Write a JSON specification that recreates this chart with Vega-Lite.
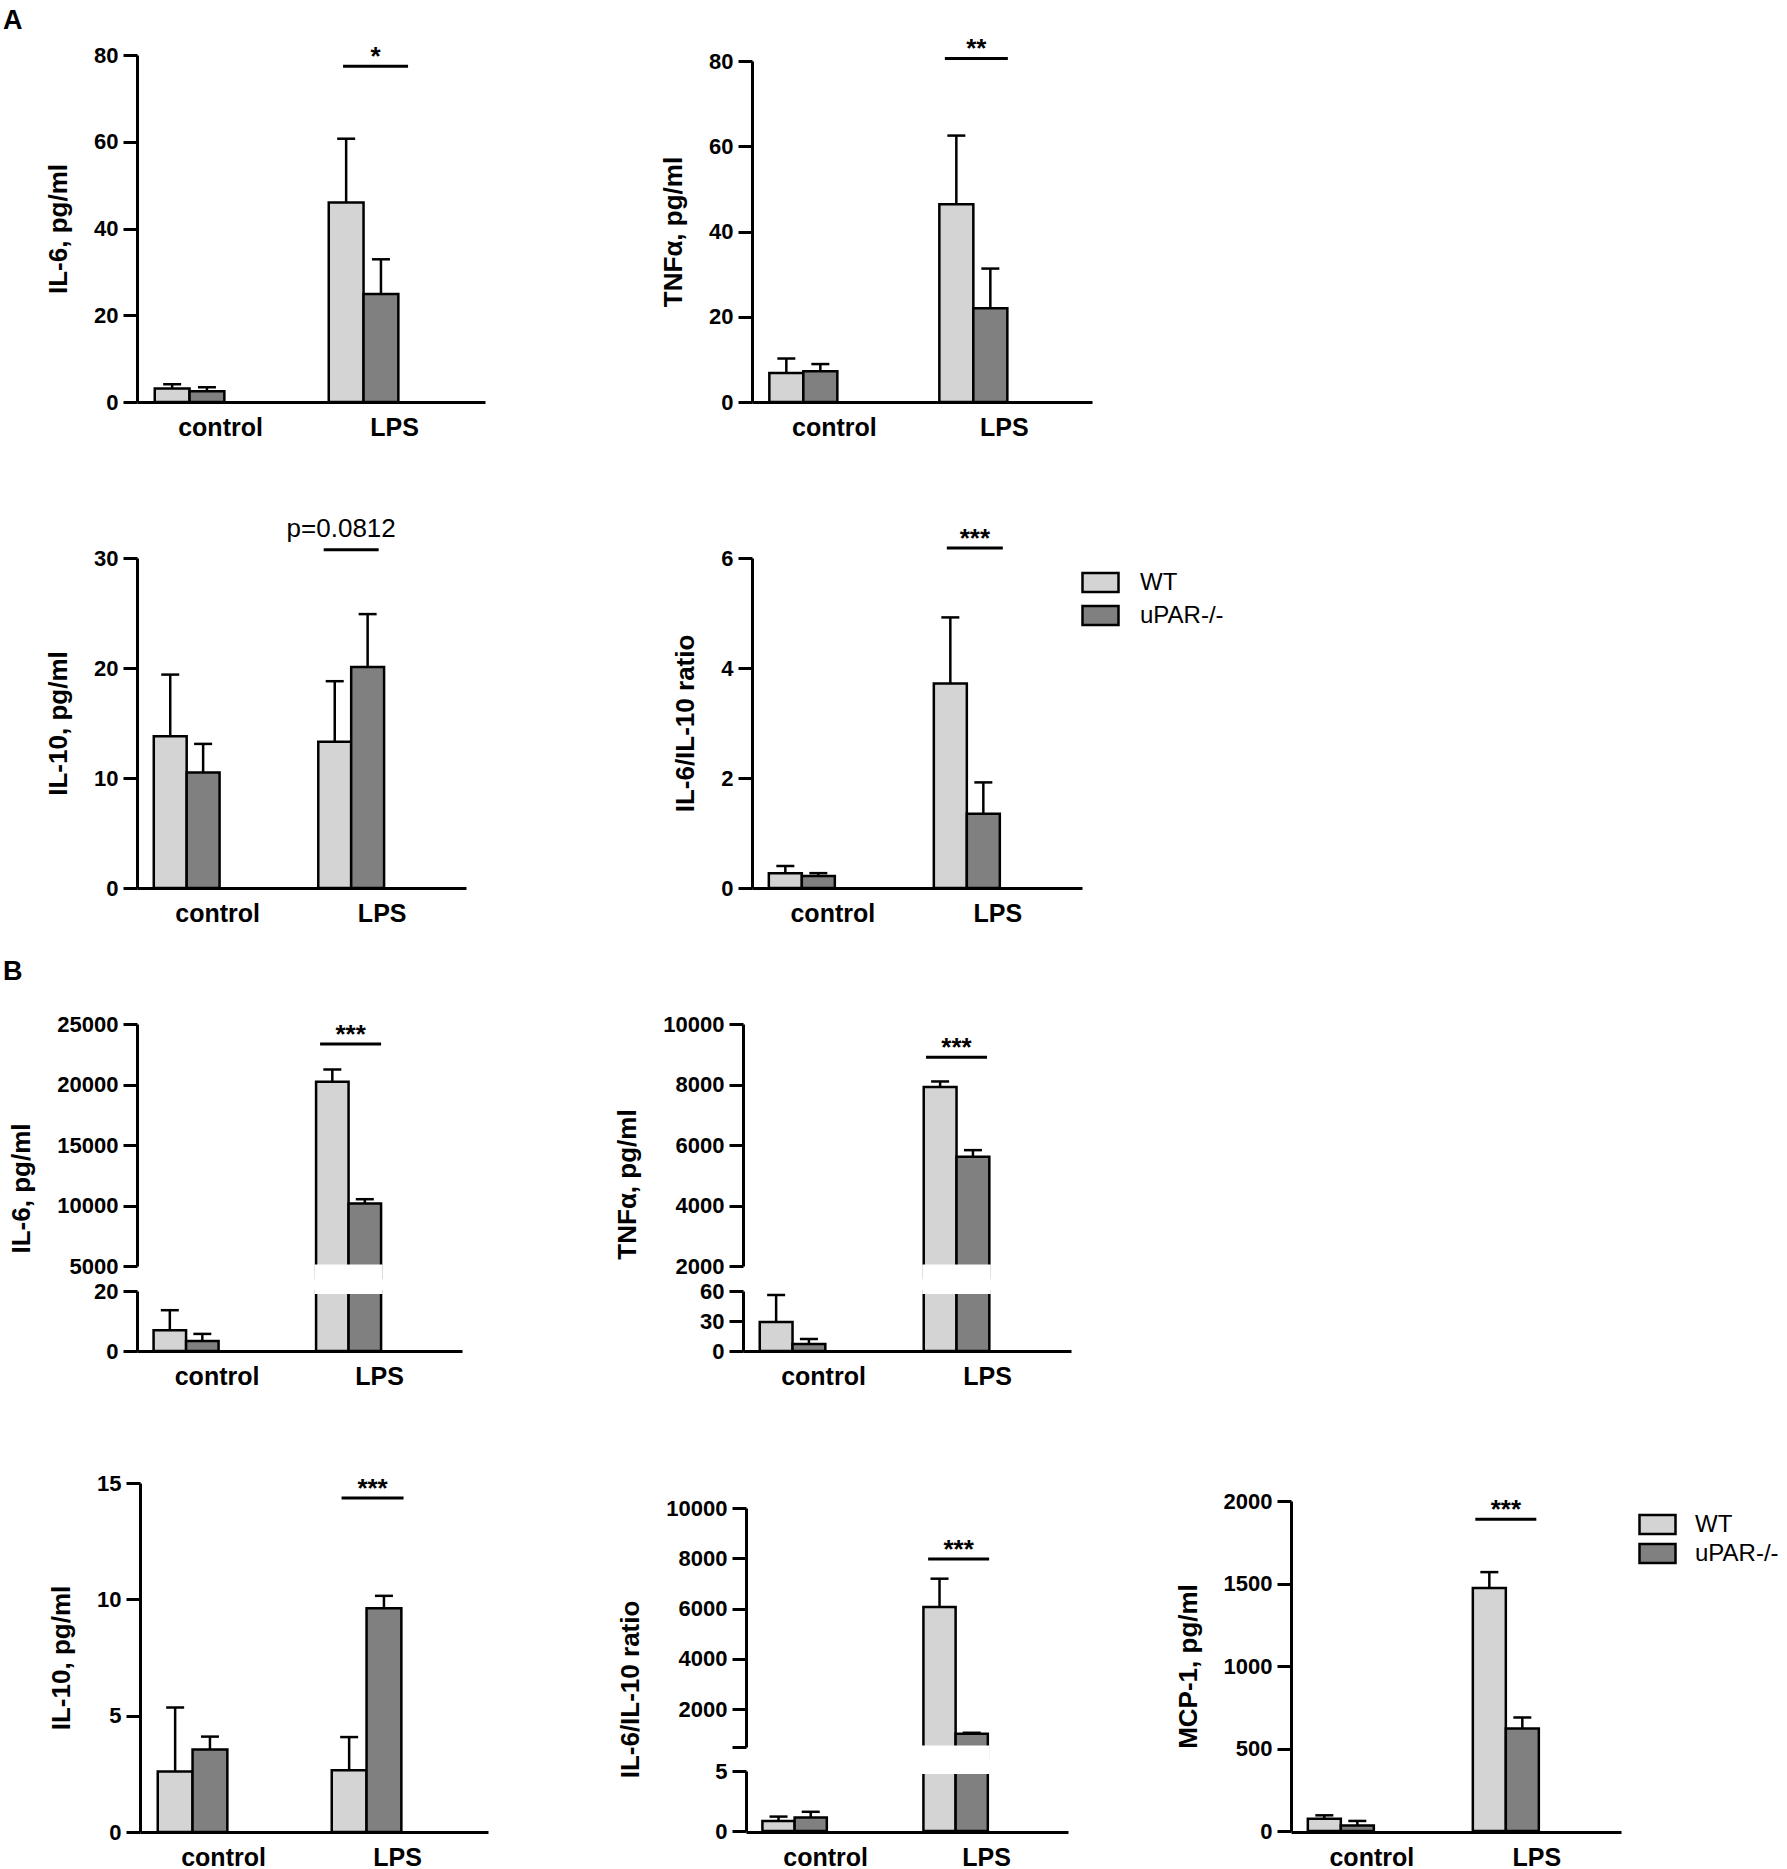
{
  "$schema": "https://vega.github.io/schema/vega-lite/v6.json",
  "background": "white",
  "padding": {"left": 3, "top": 7, "right": 0, "bottom": 0},
  "config": {
    "font": "Liberation Sans",
    "view": {"stroke": null},
    "axis": {
      "domainColor": "black", "domainWidth": 3, "tickColor": "black", "tickWidth": 3, "tickSize": 14,
      "labelColor": "black", "labelFontWeight": "bold", "labelFontSize": 22, "labelPadding": 5,
      "titleColor": "black", "titleFontWeight": "bold", "titleFontSize": 26, "titlePadding": 22,
      "grid": false, "labelFlush": false, "labelOverlap": false
    },
    "axisX": {"ticks": false, "labelFontSize": 25, "labelPadding": 13, "labelAngle": 0, "labelOffset": 31},
    "axisY": {"format": "d"},
    "legend": {
      "symbolType": "M-1.5,-0.8H1.5V0.8H-1.5Z", "symbolSize": 576,
      "symbolStrokeColor": "black", "symbolStrokeWidth": 2.5,
      "labelFontSize": 24, "labelColor": "black", "labelOffset": 26
    },
    "title": {"color": "black", "fontWeight": "bold", "fontSize": 27, "anchor": "start", "frame": "group"}
  },
  "datasets": {
    "bars": [
      {"chart": "A_IL6", "cond": "control", "geno": "WT", "mean": 3.1, "upper": 4.1},
      {"chart": "A_IL6", "cond": "control", "geno": "uPAR-/-", "mean": 2.5, "upper": 3.4},
      {"chart": "A_IL6", "cond": "LPS", "geno": "WT", "mean": 46, "upper": 60.7},
      {"chart": "A_IL6", "cond": "LPS", "geno": "uPAR-/-", "mean": 24.9, "upper": 32.9},
      {"chart": "A_TNF", "cond": "control", "geno": "WT", "mean": 6.8, "upper": 10.2},
      {"chart": "A_TNF", "cond": "control", "geno": "uPAR-/-", "mean": 7.2, "upper": 8.9},
      {"chart": "A_TNF", "cond": "LPS", "geno": "WT", "mean": 46.4, "upper": 62.5},
      {"chart": "A_TNF", "cond": "LPS", "geno": "uPAR-/-", "mean": 22, "upper": 31.3},
      {"chart": "A_IL10", "cond": "control", "geno": "WT", "mean": 13.8, "upper": 19.4},
      {"chart": "A_IL10", "cond": "control", "geno": "uPAR-/-", "mean": 10.5, "upper": 13.1},
      {"chart": "A_IL10", "cond": "LPS", "geno": "WT", "mean": 13.3, "upper": 18.8},
      {"chart": "A_IL10", "cond": "LPS", "geno": "uPAR-/-", "mean": 20.1, "upper": 24.9},
      {"chart": "A_RATIO", "cond": "control", "geno": "WT", "mean": 0.27, "upper": 0.4},
      {"chart": "A_RATIO", "cond": "control", "geno": "uPAR-/-", "mean": 0.22, "upper": 0.27},
      {"chart": "A_RATIO", "cond": "LPS", "geno": "WT", "mean": 3.72, "upper": 4.92},
      {"chart": "A_RATIO", "cond": "LPS", "geno": "uPAR-/-", "mean": 1.35, "upper": 1.92},
      {"chart": "B_IL6", "cond": "control", "geno": "WT", "mean": 6.9, "upper": 13.6},
      {"chart": "B_IL6", "cond": "control", "geno": "uPAR-/-", "mean": 3.3, "upper": 5.7},
      {"chart": "B_IL6", "cond": "LPS", "geno": "WT", "mean": 20220, "upper": 21240},
      {"chart": "B_IL6", "cond": "LPS", "geno": "uPAR-/-", "mean": 10160, "upper": 10520},
      {"chart": "B_TNF", "cond": "control", "geno": "WT", "mean": 29, "upper": 56},
      {"chart": "B_TNF", "cond": "control", "geno": "uPAR-/-", "mean": 7, "upper": 12},
      {"chart": "B_TNF", "cond": "LPS", "geno": "WT", "mean": 7920, "upper": 8100},
      {"chart": "B_TNF", "cond": "LPS", "geno": "uPAR-/-", "mean": 5610, "upper": 5830},
      {"chart": "B_IL10", "cond": "control", "geno": "WT", "mean": 2.6, "upper": 5.35},
      {"chart": "B_IL10", "cond": "control", "geno": "uPAR-/-", "mean": 3.55, "upper": 4.1},
      {"chart": "B_IL10", "cond": "LPS", "geno": "WT", "mean": 2.65, "upper": 4.08},
      {"chart": "B_IL10", "cond": "LPS", "geno": "uPAR-/-", "mean": 9.62, "upper": 10.15},
      {"chart": "B_RATIO", "cond": "control", "geno": "WT", "mean": 0.84, "upper": 1.2},
      {"chart": "B_RATIO", "cond": "control", "geno": "uPAR-/-", "mean": 1.12, "upper": 1.6},
      {"chart": "B_RATIO", "cond": "LPS", "geno": "WT", "mean": 6060, "upper": 7190},
      {"chart": "B_RATIO", "cond": "LPS", "geno": "uPAR-/-", "mean": 1030, "upper": 1065},
      {"chart": "B_MCP1", "cond": "control", "geno": "WT", "mean": 75, "upper": 95},
      {"chart": "B_MCP1", "cond": "control", "geno": "uPAR-/-", "mean": 34, "upper": 61},
      {"chart": "B_MCP1", "cond": "LPS", "geno": "WT", "mean": 1472, "upper": 1569},
      {"chart": "B_MCP1", "cond": "LPS", "geno": "uPAR-/-", "mean": 621, "upper": 688}
    ],
    "sig": [
      {"chart": "A_IL6", "cond": "LPS", "level": 77.4, "label": "*"},
      {"chart": "A_TNF", "cond": "LPS", "level": 80.6, "label": "**"},
      {"chart": "A_IL10", "cond": "LPS", "level": 30.76, "label": "p=0.0812"},
      {"chart": "A_RATIO", "cond": "LPS", "level": 6.18, "label": "***"},
      {"chart": "B_IL6", "cond": "LPS", "level": 23350, "label": "***"},
      {"chart": "B_TNF", "cond": "LPS", "level": 8900, "label": "***"},
      {"chart": "B_IL10", "cond": "LPS", "level": 14.36, "label": "***"},
      {"chart": "B_RATIO", "cond": "LPS", "level": 7970, "label": "***"},
      {"chart": "B_MCP1", "cond": "LPS", "level": 1890, "label": "***"}
    ]
  },
  "columns": 3,
  "bounds": "flush",
  "spacing": {"row": 132, "column": 199},
  "resolve": {"scale": {"x": "independent", "y": "independent", "xOffset": "independent", "fill": "independent"}, "legend": {"fill": "independent"}},
  "concat": [
    {
      "width": 407, "height": 347,
      "title": {"text": "A", "dx": -134, "offset": 9},
      "layer": [
        {
          "data": {"name": "bars"},
          "transform": [{"filter": "datum.chart == 'A_IL6'"}],
          "encoding": {
            "x": {"field": "cond", "type": "nominal", "title": null, "scale": {"domain": ["control", "LPS"], "range": [0, 348], "paddingInner": 0.6, "paddingOuter": 0.3, "align": 0.17}},
            "xOffset": {"field": "geno", "type": "nominal", "scale": {"domain": ["WT", "uPAR-/-"], "paddingInner": 0, "paddingOuter": 0}}
          },
          "layer": [
            {"mark": {"type": "bar", "stroke": "black", "strokeWidth": 2.5, "clip": true},
             "encoding": {
               "y": {"field": "mean", "type": "quantitative", "title": "IL-6, pg/ml", "scale": {"domain": [0, 80], "range": [347, 0], "nice": false, "zero": false}, "axis": {"values": [0, 20, 40, 60, 80]}},
               "y2": {"datum": 0},
               "fill": {"field": "geno", "type": "nominal", "scale": {"domain": ["WT", "uPAR-/-"], "range": ["#d4d4d4", "#808080"]}, "legend": null}
             }},
            {"mark": {"type": "rule", "color": "black", "strokeWidth": 2.5, "clip": true},
             "encoding": {"y": {"field": "mean", "type": "quantitative", "title": "IL-6, pg/ml"}, "y2": {"field": "upper"}}},
            {"mark": {"type": "tick", "color": "black", "thickness": 2.5, "size": 18, "opacity": 1, "clip": true},
             "encoding": {"y": {"field": "upper", "type": "quantitative", "title": "IL-6, pg/ml"}}}
          ]
        },
        {
          "data": {"name": "sig"},
          "transform": [{"filter": "datum.chart == 'A_IL6'"}],
          "encoding": {"x": {"field": "cond", "type": "nominal", "title": null}, "y": {"field": "level", "type": "quantitative", "title": "IL-6, pg/ml"}},
          "layer": [
            {"mark": {"type": "tick", "color": "black", "thickness": 3, "size": 65, "opacity": 1, "xOffset": 12}},
            {"mark": {"type": "text", "fontSize": 26, "fontWeight": "bold", "baseline": "alphabetic", "dy": -1, "xOffset": 12, "color": "black"}, "encoding": {"text": {"field": "label"}}}
          ]
        }
      ]
    },
    {
      "width": 349, "height": 347,
      "layer": [
        {
          "data": {"name": "bars"},
          "transform": [{"filter": "datum.chart == 'A_TNF'"}],
          "encoding": {
            "x": {"field": "cond", "type": "nominal", "title": null, "scale": {"domain": ["control", "LPS"], "range": [9, 349], "paddingInner": 0.6, "paddingOuter": 0.3, "align": 0.17}},
            "xOffset": {"field": "geno", "type": "nominal", "scale": {"domain": ["WT", "uPAR-/-"], "paddingInner": 0, "paddingOuter": 0}}
          },
          "layer": [
            {"mark": {"type": "bar", "stroke": "black", "strokeWidth": 2.5, "clip": true},
             "encoding": {
               "y": {"field": "mean", "type": "quantitative", "title": "TNFα, pg/ml", "scale": {"domain": [0, 80], "range": [347, 6], "nice": false, "zero": false}, "axis": {"values": [0, 20, 40, 60, 80], "offset": -9}},
               "y2": {"datum": 0},
               "fill": {"field": "geno", "type": "nominal", "scale": {"domain": ["WT", "uPAR-/-"], "range": ["#d4d4d4", "#808080"]}, "legend": null}
             }},
            {"mark": {"type": "rule", "color": "black", "strokeWidth": 2.5, "clip": true},
             "encoding": {"y": {"field": "mean", "type": "quantitative", "title": "TNFα, pg/ml"}, "y2": {"field": "upper"}}},
            {"mark": {"type": "tick", "color": "black", "thickness": 2.5, "size": 18, "opacity": 1, "clip": true},
             "encoding": {"y": {"field": "upper", "type": "quantitative", "title": "TNFα, pg/ml"}}}
          ]
        },
        {
          "data": {"name": "sig"},
          "transform": [{"filter": "datum.chart == 'A_TNF'"}],
          "encoding": {"x": {"field": "cond", "type": "nominal", "title": null}, "y": {"field": "level", "type": "quantitative", "title": "TNFα, pg/ml"}},
          "layer": [
            {"mark": {"type": "tick", "color": "black", "thickness": 3, "size": 63, "opacity": 1, "xOffset": 3}},
            {"mark": {"type": "text", "fontSize": 26, "fontWeight": "bold", "baseline": "alphabetic", "dy": -1, "xOffset": 3, "color": "black"}, "encoding": {"text": {"field": "label"}}}
          ]
        }
      ]
    },
    {"width": 1, "height": 1, "data": {"values": []}, "mark": "rect", "encoding": {}},
    {
      "width": 407, "height": 354,
      "layer": [
        {
          "data": {"name": "bars"},
          "transform": [{"filter": "datum.chart == 'A_IL10'"}],
          "encoding": {
            "x": {"field": "cond", "type": "nominal", "title": null, "scale": {"domain": ["control", "LPS"], "range": [0, 329], "paddingInner": 0.6, "paddingOuter": 0.3, "align": 0.17}},
            "xOffset": {"field": "geno", "type": "nominal", "scale": {"domain": ["WT", "uPAR-/-"], "paddingInner": 0, "paddingOuter": 0}}
          },
          "layer": [
            {"mark": {"type": "bar", "stroke": "black", "strokeWidth": 2.5, "clip": true},
             "encoding": {
               "y": {"field": "mean", "type": "quantitative", "title": "IL-10, pg/ml", "scale": {"domain": [0, 30], "range": [354, 24], "nice": false, "zero": false}, "axis": {"values": [0, 10, 20, 30]}},
               "y2": {"datum": 0},
               "fill": {"field": "geno", "type": "nominal", "scale": {"domain": ["WT", "uPAR-/-"], "range": ["#d4d4d4", "#808080"]}, "legend": null}
             }},
            {"mark": {"type": "rule", "color": "black", "strokeWidth": 2.5, "clip": true},
             "encoding": {"y": {"field": "mean", "type": "quantitative", "title": "IL-10, pg/ml"}, "y2": {"field": "upper"}}},
            {"mark": {"type": "tick", "color": "black", "thickness": 2.5, "size": 18, "opacity": 1, "clip": true},
             "encoding": {"y": {"field": "upper", "type": "quantitative", "title": "IL-10, pg/ml"}}}
          ]
        },
        {
          "data": {"name": "sig"},
          "transform": [{"filter": "datum.chart == 'A_IL10'"}],
          "encoding": {"x": {"field": "cond", "type": "nominal", "title": null}, "y": {"field": "level", "type": "quantitative", "title": "IL-10, pg/ml"}},
          "layer": [
            {"mark": {"type": "tick", "color": "black", "thickness": 3, "size": 55, "opacity": 1}},
            {"mark": {"type": "text", "fontSize": 26, "fontWeight": "normal", "baseline": "alphabetic", "dy": -13, "dx": -10, "color": "black"}, "encoding": {"text": {"field": "label"}}}
          ]
        }
      ]
    },
    {
      "width": 339, "height": 354,
      "layer": [
        {
          "data": {"name": "bars"},
          "transform": [{"filter": "datum.chart == 'A_RATIO'"}],
          "encoding": {
            "x": {"field": "cond", "type": "nominal", "title": null, "scale": {"domain": ["control", "LPS"], "range": [9, 339], "paddingInner": 0.6, "paddingOuter": 0.3, "align": 0.17}},
            "xOffset": {"field": "geno", "type": "nominal", "scale": {"domain": ["WT", "uPAR-/-"], "paddingInner": 0, "paddingOuter": 0}}
          },
          "layer": [
            {"mark": {"type": "bar", "stroke": "black", "strokeWidth": 2.5, "clip": true},
             "encoding": {
               "y": {"field": "mean", "type": "quantitative", "title": "IL-6/IL-10 ratio", "scale": {"domain": [0, 6], "range": [354, 24], "nice": false, "zero": false}, "axis": {"values": [0, 2, 4, 6], "offset": -9}},
               "y2": {"datum": 0},
               "fill": {"field": "geno", "type": "nominal", "scale": {"domain": ["WT", "uPAR-/-"], "range": ["#d4d4d4", "#808080"]}, "legend": {"title": null, "orient": "none", "legendX": 344, "legendY": 35, "rowPadding": 2, "labelOffset": 26}}
             }},
            {"mark": {"type": "rule", "color": "black", "strokeWidth": 2.5, "clip": true},
             "encoding": {"y": {"field": "mean", "type": "quantitative", "title": "IL-6/IL-10 ratio"}, "y2": {"field": "upper"}}},
            {"mark": {"type": "tick", "color": "black", "thickness": 2.5, "size": 18, "opacity": 1, "clip": true},
             "encoding": {"y": {"field": "upper", "type": "quantitative", "title": "IL-6/IL-10 ratio"}}}
          ]
        },
        {
          "data": {"name": "sig"},
          "transform": [{"filter": "datum.chart == 'A_RATIO'"}],
          "encoding": {"x": {"field": "cond", "type": "nominal", "title": null}, "y": {"field": "level", "type": "quantitative", "title": "IL-6/IL-10 ratio"}},
          "layer": [
            {"mark": {"type": "tick", "color": "black", "thickness": 3, "size": 56, "opacity": 1, "xOffset": 8}},
            {"mark": {"type": "text", "fontSize": 26, "fontWeight": "bold", "baseline": "alphabetic", "dy": -1, "xOffset": 8, "color": "black"}, "encoding": {"text": {"field": "label"}}}
          ]
        }
      ]
    },
    {"width": 1, "height": 1, "data": {"values": []}, "mark": "rect", "encoding": {}},
    {
      "width": 407, "height": 331,
      "title": {"text": "B", "dx": -134, "offset": 27},
      "resolve": {"scale": {"y": "independent"}, "axis": {"y": "independent"}},
      "layer": [
        {
          "data": {"name": "bars"},
          "transform": [{"filter": "datum.chart == 'B_IL6'"}],
          "encoding": {
            "x": {"field": "cond", "type": "nominal", "title": null, "scale": {"domain": ["control", "LPS"], "range": [0, 325], "paddingInner": 0.6, "paddingOuter": 0.3, "align": 0.17}},
            "xOffset": {"field": "geno", "type": "nominal", "scale": {"domain": ["WT", "uPAR-/-"], "paddingInner": 0, "paddingOuter": 0}}
          },
          "layer": [
            {"mark": {"type": "bar", "stroke": "black", "strokeWidth": 2.5, "clip": true},
             "encoding": {
               "y": {"field": "mean", "type": "quantitative", "title": null, "scale": {"domain": [0, 20], "range": [331, 271], "clamp": true, "nice": false, "zero": false}, "axis": {"values": [0, 20], "orient": "left"}},
               "y2": {"datum": 0},
               "fill": {"field": "geno", "type": "nominal", "scale": {"domain": ["WT", "uPAR-/-"], "range": ["#d4d4d4", "#808080"]}, "legend": null}
             }},
            {"transform": [{"filter": "datum.upper <= 20"}],
             "mark": {"type": "rule", "color": "black", "strokeWidth": 2.5, "clip": true},
             "encoding": {"y": {"field": "mean", "type": "quantitative", "title": null}, "y2": {"field": "upper"}}},
            {"transform": [{"filter": "datum.upper <= 20"}],
             "mark": {"type": "tick", "color": "black", "thickness": 2.5, "size": 18, "opacity": 1, "clip": true},
             "encoding": {"y": {"field": "upper", "type": "quantitative", "title": null}}}
          ]
        },
        {
          "layer": [
            {
              "data": {"name": "bars"},
              "transform": [{"filter": "datum.chart == 'B_IL6' && datum.mean >= 5000"}],
              "encoding": {
                "x": {"field": "cond", "type": "nominal", "title": null},
                "xOffset": {"field": "geno", "type": "nominal"}
              },
              "layer": [
                {"mark": {"type": "bar", "stroke": "black", "strokeWidth": 2.5, "clip": true},
                 "encoding": {
                   "y": {"field": "mean", "type": "quantitative", "title": "IL-6, pg/ml", "scale": {"domain": [5000, 25000], "range": [246, 4], "nice": false, "zero": false}, "axis": {"values": [5000, 10000, 15000, 20000, 25000], "orient": "left", "titleY": 168}},
                   "y2": {"datum": 4000},
                   "fill": {"field": "geno", "type": "nominal", "legend": null}
                 }},
                {"mark": {"type": "rule", "color": "black", "strokeWidth": 2.5, "clip": true},
                 "encoding": {"y": {"field": "mean", "type": "quantitative", "title": "IL-6, pg/ml"}, "y2": {"field": "upper"}}},
                {"mark": {"type": "tick", "color": "black", "thickness": 2.5, "size": 18, "opacity": 1, "clip": true},
                 "encoding": {"y": {"field": "upper", "type": "quantitative", "title": "IL-6, pg/ml"}}}
              ]
            },
            {
              "data": {"name": "sig"},
              "transform": [{"filter": "datum.chart == 'B_IL6'"}],
              "encoding": {"x": {"field": "cond", "type": "nominal", "title": null}},
              "layer": [
                {"mark": {"type": "rect", "fill": "white", "stroke": "white", "strokeWidth": 3},
                 "encoding": {"y": {"datum": 5000}, "y2": {"datum": 2810}}},
                {"mark": {"type": "tick", "color": "black", "thickness": 3, "size": 61, "opacity": 1, "xOffset": 2},
                 "encoding": {"y": {"field": "level", "type": "quantitative", "title": "IL-6, pg/ml"}}},
                {"mark": {"type": "text", "fontSize": 26, "fontWeight": "bold", "baseline": "alphabetic", "dy": -1, "xOffset": 2, "color": "black"},
                 "encoding": {"y": {"field": "level", "type": "quantitative", "title": "IL-6, pg/ml"}, "text": {"field": "label"}}}
              ]
            }
          ]
        }
      ]
    },
    {
      "width": 328, "height": 331,
      "resolve": {"scale": {"y": "independent"}, "axis": {"y": "independent"}},
      "layer": [
        {
          "data": {"name": "bars"},
          "transform": [{"filter": "datum.chart == 'B_TNF'"}],
          "encoding": {
            "x": {"field": "cond", "type": "nominal", "title": null, "scale": {"domain": ["control", "LPS"], "range": [0, 328], "paddingInner": 0.6, "paddingOuter": 0.3, "align": 0.17}},
            "xOffset": {"field": "geno", "type": "nominal", "scale": {"domain": ["WT", "uPAR-/-"], "paddingInner": 0, "paddingOuter": 0}}
          },
          "layer": [
            {"mark": {"type": "bar", "stroke": "black", "strokeWidth": 2.5, "clip": true},
             "encoding": {
               "y": {"field": "mean", "type": "quantitative", "title": null, "scale": {"domain": [0, 60], "range": [331, 271], "clamp": true, "nice": false, "zero": false}, "axis": {"values": [0, 30, 60], "orient": "left"}},
               "y2": {"datum": 0},
               "fill": {"field": "geno", "type": "nominal", "scale": {"domain": ["WT", "uPAR-/-"], "range": ["#d4d4d4", "#808080"]}, "legend": null}
             }},
            {"transform": [{"filter": "datum.upper <= 60"}],
             "mark": {"type": "rule", "color": "black", "strokeWidth": 2.5, "clip": true},
             "encoding": {"y": {"field": "mean", "type": "quantitative", "title": null}, "y2": {"field": "upper"}}},
            {"transform": [{"filter": "datum.upper <= 60"}],
             "mark": {"type": "tick", "color": "black", "thickness": 2.5, "size": 18, "opacity": 1, "clip": true},
             "encoding": {"y": {"field": "upper", "type": "quantitative", "title": null}}}
          ]
        },
        {
          "layer": [
            {
              "data": {"name": "bars"},
              "transform": [{"filter": "datum.chart == 'B_TNF' && datum.mean >= 2000"}],
              "encoding": {
                "x": {"field": "cond", "type": "nominal", "title": null},
                "xOffset": {"field": "geno", "type": "nominal"}
              },
              "layer": [
                {"mark": {"type": "bar", "stroke": "black", "strokeWidth": 2.5, "clip": true},
                 "encoding": {
                   "y": {"field": "mean", "type": "quantitative", "title": "TNFα, pg/ml", "scale": {"domain": [2000, 10000], "range": [246, 4], "nice": false, "zero": false}, "axis": {"values": [2000, 4000, 6000, 8000, 10000], "orient": "left", "titleY": 164}},
                   "y2": {"datum": 1600},
                   "fill": {"field": "geno", "type": "nominal", "legend": null}
                 }},
                {"mark": {"type": "rule", "color": "black", "strokeWidth": 2.5, "clip": true},
                 "encoding": {"y": {"field": "mean", "type": "quantitative", "title": "TNFα, pg/ml"}, "y2": {"field": "upper"}}},
                {"mark": {"type": "tick", "color": "black", "thickness": 2.5, "size": 18, "opacity": 1, "clip": true},
                 "encoding": {"y": {"field": "upper", "type": "quantitative", "title": "TNFα, pg/ml"}}}
              ]
            },
            {
              "data": {"name": "sig"},
              "transform": [{"filter": "datum.chart == 'B_TNF'"}],
              "encoding": {"x": {"field": "cond", "type": "nominal", "title": null}},
              "layer": [
                {"mark": {"type": "rect", "fill": "white", "stroke": "white", "strokeWidth": 3},
                 "encoding": {"y": {"datum": 2000}, "y2": {"datum": 1124}}},
                {"mark": {"type": "tick", "color": "black", "thickness": 3, "size": 61, "opacity": 1},
                 "encoding": {"y": {"field": "level", "type": "quantitative", "title": "TNFα, pg/ml"}}},
                {"mark": {"type": "text", "fontSize": 26, "fontWeight": "bold", "baseline": "alphabetic", "dy": -1, "color": "black"},
                 "encoding": {"y": {"field": "level", "type": "quantitative", "title": "TNFα, pg/ml"}, "text": {"field": "label"}}}
              ]
            }
          ]
        }
      ]
    },
    {"width": 1, "height": 1, "data": {"values": []}, "mark": "rect", "encoding": {}},
    {
      "width": 407, "height": 349,
      "layer": [
        {
          "data": {"name": "bars"},
          "transform": [{"filter": "datum.chart == 'B_IL10'"}],
          "encoding": {
            "x": {"field": "cond", "type": "nominal", "title": null, "scale": {"domain": ["control", "LPS"], "range": [3, 351], "paddingInner": 0.6, "paddingOuter": 0.3, "align": 0.17}},
            "xOffset": {"field": "geno", "type": "nominal", "scale": {"domain": ["WT", "uPAR-/-"], "paddingInner": 0, "paddingOuter": 0}}
          },
          "layer": [
            {"mark": {"type": "bar", "stroke": "black", "strokeWidth": 2.5, "clip": true},
             "encoding": {
               "y": {"field": "mean", "type": "quantitative", "title": "IL-10, pg/ml", "scale": {"domain": [0, 15], "range": [349, 0], "nice": false, "zero": false}, "axis": {"values": [0, 5, 10, 15], "offset": -3}},
               "y2": {"datum": 0},
               "fill": {"field": "geno", "type": "nominal", "scale": {"domain": ["WT", "uPAR-/-"], "range": ["#d4d4d4", "#808080"]}, "legend": null}
             }},
            {"mark": {"type": "rule", "color": "black", "strokeWidth": 2.5, "clip": true},
             "encoding": {"y": {"field": "mean", "type": "quantitative", "title": "IL-10, pg/ml"}, "y2": {"field": "upper"}}},
            {"mark": {"type": "tick", "color": "black", "thickness": 2.5, "size": 18, "opacity": 1, "clip": true},
             "encoding": {"y": {"field": "upper", "type": "quantitative", "title": "IL-10, pg/ml"}}}
          ]
        },
        {
          "data": {"name": "sig"},
          "transform": [{"filter": "datum.chart == 'B_IL10'"}],
          "encoding": {"x": {"field": "cond", "type": "nominal", "title": null}, "y": {"field": "level", "type": "quantitative", "title": "IL-10, pg/ml"}},
          "layer": [
            {"mark": {"type": "tick", "color": "black", "thickness": 3, "size": 62, "opacity": 1, "xOffset": 6}},
            {"mark": {"type": "text", "fontSize": 26, "fontWeight": "bold", "baseline": "alphabetic", "dy": -1, "xOffset": 6, "color": "black"}, "encoding": {"text": {"field": "label"}}}
          ]
        }
      ]
    },
    {
      "width": 325, "height": 349,
      "resolve": {"scale": {"y": "independent"}, "axis": {"y": "independent"}},
      "layer": [
        {
          "data": {"name": "bars"},
          "transform": [{"filter": "datum.chart == 'B_RATIO'"}],
          "encoding": {
            "x": {"field": "cond", "type": "nominal", "title": null, "scale": {"domain": ["control", "LPS"], "range": [3, 325], "paddingInner": 0.6, "paddingOuter": 0.3, "align": 0.17}},
            "xOffset": {"field": "geno", "type": "nominal", "scale": {"domain": ["WT", "uPAR-/-"], "paddingInner": 0, "paddingOuter": 0}}
          },
          "layer": [
            {"mark": {"type": "bar", "stroke": "black", "strokeWidth": 2.5, "clip": true},
             "encoding": {
               "y": {"field": "mean", "type": "quantitative", "title": null, "scale": {"domain": [0, 5], "range": [348, 288], "clamp": true, "nice": false, "zero": false}, "axis": {"values": [0, 5], "orient": "left", "offset": -3}},
               "y2": {"datum": 0},
               "fill": {"field": "geno", "type": "nominal", "scale": {"domain": ["WT", "uPAR-/-"], "range": ["#d4d4d4", "#808080"]}, "legend": null}
             }},
            {"transform": [{"filter": "datum.upper <= 5"}],
             "mark": {"type": "rule", "color": "black", "strokeWidth": 2.5, "clip": true},
             "encoding": {"y": {"field": "mean", "type": "quantitative", "title": null}, "y2": {"field": "upper"}}},
            {"transform": [{"filter": "datum.upper <= 5"}],
             "mark": {"type": "tick", "color": "black", "thickness": 2.5, "size": 18, "opacity": 1, "clip": true},
             "encoding": {"y": {"field": "upper", "type": "quantitative", "title": null}}}
          ]
        },
        {
          "layer": [
            {
              "data": {"name": "bars"},
              "transform": [{"filter": "datum.chart == 'B_RATIO' && datum.mean >= 500"}],
              "encoding": {
                "x": {"field": "cond", "type": "nominal", "title": null},
                "xOffset": {"field": "geno", "type": "nominal"}
              },
              "layer": [
                {"mark": {"type": "bar", "stroke": "black", "strokeWidth": 2.5, "clip": true},
                 "encoding": {
                   "y": {"field": "mean", "type": "quantitative", "title": "IL-6/IL-10 ratio", "scale": {"domain": [500, 10000], "range": [264, 25], "nice": false, "zero": false}, "axis": {"values": [500, 2000, 4000, 6000, 8000, 10000], "labelExpr": "datum.value == 500 ? '' : datum.label", "orient": "left", "offset": -3, "titleY": 206}},
                   "y2": {"datum": 20},
                   "fill": {"field": "geno", "type": "nominal", "legend": null}
                 }},
                {"mark": {"type": "rule", "color": "black", "strokeWidth": 2.5, "clip": true},
                 "encoding": {"y": {"field": "mean", "type": "quantitative", "title": "IL-6/IL-10 ratio"}, "y2": {"field": "upper"}}},
                {"mark": {"type": "tick", "color": "black", "thickness": 2.5, "size": 18, "opacity": 1, "clip": true},
                 "encoding": {"y": {"field": "upper", "type": "quantitative", "title": "IL-6/IL-10 ratio"}}}
              ]
            },
            {
              "data": {"name": "sig"},
              "transform": [{"filter": "datum.chart == 'B_RATIO'"}],
              "encoding": {"x": {"field": "cond", "type": "nominal", "title": null}},
              "layer": [
                {"mark": {"type": "rect", "fill": "white", "stroke": "white", "strokeWidth": 3},
                 "encoding": {"y": {"datum": 500}, "y2": {"datum": -513}}},
                {"mark": {"type": "tick", "color": "black", "thickness": 3, "size": 61, "opacity": 1, "xOffset": 3},
                 "encoding": {"y": {"field": "level", "type": "quantitative", "title": "IL-6/IL-10 ratio"}}},
                {"mark": {"type": "text", "fontSize": 26, "fontWeight": "bold", "baseline": "alphabetic", "dy": -1, "xOffset": 3, "color": "black"},
                 "encoding": {"y": {"field": "level", "type": "quantitative", "title": "IL-6/IL-10 ratio"}, "text": {"field": "label"}}}
              ]
            }
          ]
        }
      ]
    },
    {
      "width": 330, "height": 349,
      "layer": [
        {
          "data": {"name": "bars"},
          "transform": [{"filter": "datum.chart == 'B_MCP1'"}],
          "encoding": {
            "x": {"field": "cond", "type": "nominal", "title": null, "scale": {"domain": ["control", "LPS"], "paddingInner": 0.6, "paddingOuter": 0.3, "align": 0.17}},
            "xOffset": {"field": "geno", "type": "nominal", "scale": {"domain": ["WT", "uPAR-/-"], "paddingInner": 0, "paddingOuter": 0}}
          },
          "layer": [
            {"mark": {"type": "bar", "stroke": "black", "strokeWidth": 2.5, "clip": true},
             "encoding": {
               "y": {"field": "mean", "type": "quantitative", "title": "MCP-1, pg/ml", "scale": {"domain": [0, 2000], "range": [348, 18], "nice": false, "zero": false}, "axis": {"values": [0, 500, 1000, 1500, 2000]}},
               "y2": {"datum": 0},
               "fill": {"field": "geno", "type": "nominal", "scale": {"domain": ["WT", "uPAR-/-"], "range": ["#d4d4d4", "#808080"]}, "legend": {"title": null, "orient": "none", "legendX": 353, "legendY": 28, "rowPadding": -6, "labelOffset": 24}}
             }},
            {"mark": {"type": "rule", "color": "black", "strokeWidth": 2.5, "clip": true},
             "encoding": {"y": {"field": "mean", "type": "quantitative", "title": "MCP-1, pg/ml"}, "y2": {"field": "upper"}}},
            {"mark": {"type": "tick", "color": "black", "thickness": 2.5, "size": 18, "opacity": 1, "clip": true},
             "encoding": {"y": {"field": "upper", "type": "quantitative", "title": "MCP-1, pg/ml"}}}
          ]
        },
        {
          "data": {"name": "sig"},
          "transform": [{"filter": "datum.chart == 'B_MCP1'"}],
          "encoding": {"x": {"field": "cond", "type": "nominal", "title": null}, "y": {"field": "level", "type": "quantitative", "title": "MCP-1, pg/ml"}},
          "layer": [
            {"mark": {"type": "tick", "color": "black", "thickness": 3, "size": 61, "opacity": 1}},
            {"mark": {"type": "text", "fontSize": 26, "fontWeight": "bold", "baseline": "alphabetic", "dy": -1, "color": "black"}, "encoding": {"text": {"field": "label"}}}
          ]
        }
      ]
    }
  ]
}
